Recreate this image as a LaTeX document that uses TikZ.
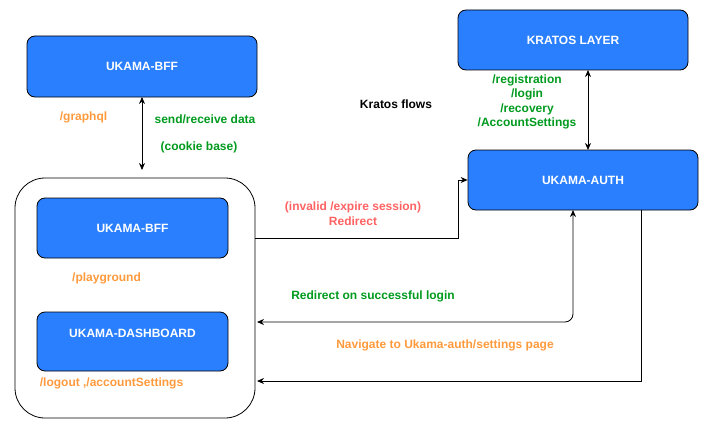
\documentclass[tikz,border=0pt]{standalone}
\usepackage{fontspec}
\setmainfont{Liberation Sans}
\usetikzlibrary{arrows.meta}
\definecolor{boxblue}{HTML}{2A7FFF}
\definecolor{lblorange}{HTML}{FF9A3C}
\definecolor{lblgreen}{HTML}{009A1E}
\definecolor{lblred}{HTML}{FF6262}
\tikzset{
  bluebox/.style={draw=black, line width=0.8pt, fill=boxblue, rounded corners=8pt, text=white, font=\fontsize{12}{14}\selectfont\bfseries, inner sep=0pt},
  lbl/.style={font=\fontsize{12}{14.5}\selectfont\bfseries, inner sep=0pt, align=center},
  conn/.style={draw=black, line width=0.8pt},
  tip/.style={-{Stealth[length=7pt,width=6pt]}},
  tips/.style={{Stealth[length=7pt,width=6pt]}-{Stealth[length=7pt,width=6pt]}},
}
\begin{document}
\begin{tikzpicture}[x=1pt,y=-1pt]
\useasboundingbox (0,0) rectangle (712,436);
% boxes
\node[bluebox, minimum width=230pt, minimum height=61pt] (bfftop) at (142,66.5) {UKAMA-BFF};
\node[draw=black, line width=0.8pt, rounded corners=30pt, minimum width=240pt, minimum height=240pt, inner sep=0pt] (cont) at (135,298) {};
\node[bluebox, minimum width=191pt, minimum height=60pt] (bffin) at (132.5,228) {UKAMA-BFF};
\node[bluebox, minimum width=191pt, minimum height=59pt] (dash) at (132.5,341.5) {};
\node[lbl, text=white] (dashlbl) at (132.5,333) {UKAMA-DASHBOARD};
\node[bluebox, minimum width=230pt, minimum height=60pt] (kratos) at (573,40) {KRATOS LAYER};
\node[bluebox, minimum width=230pt, minimum height=60pt] (auth) at (583,180) {UKAMA-AUTH};
% coordinates
\coordinate (c1) at (142,170);
\coordinate (b1) at (142,97);
\coordinate (k1) at (588,70);
\coordinate (a1) at (588,150);
\coordinate (r0) at (255,238);
\coordinate (r1) at (458,238);
\coordinate (r2) at (458,180);
\coordinate (s0) at (573,210);
\coordinate (s1) at (573,322);
\coordinate (s2) at (257,322);
\coordinate (n0) at (641,210);
\coordinate (n1) at (641,381);
\coordinate (n2) at (257,381);
% connectors
\draw[conn, tips] (b1) -- (c1);
\draw[conn, tips] (k1) -- (a1);
\draw[conn, tip] (r0) -- (r1) -- (r2) -- (auth.west);
\draw[conn, tips, rounded corners=8pt] (s0) -- (s1) -- (s2);
\draw[conn, tip] (n0) -- (n1) -- (n2);
% labels
\node[lbl, text=lblorange] (gql) at (83.5,117) {/graphql};
\node[lbl, text=lblgreen] (srd) at (205,119) {send/receive data};
\node[lbl, text=lblgreen] (cb) at (199,147) {(cookie base)};
\node[lbl, text=black] (kf) at (396,104) {Kratos flows};
\node[lbl, text=lblgreen] (flows) at (527,102) {/registration\\/login\\/recovery\\/AccountSettings};
\node[lbl, text=lblorange] (pg) at (106.5,278) {/playground};
\node[lbl, text=lblorange] (lo) at (111.5,383) {/logout ,/accountSettings};
\node[lbl, text=lblred] (inv) at (353,213.5) {(invalid /expire session)\\Redirect};
\node[lbl, text=lblgreen] (succ) at (373,296) {Redirect on successful login};
\node[lbl, text=lblorange] (nav) at (445,345) {Navigate to Ukama-auth/settings page};
\end{tikzpicture}
\end{document}
